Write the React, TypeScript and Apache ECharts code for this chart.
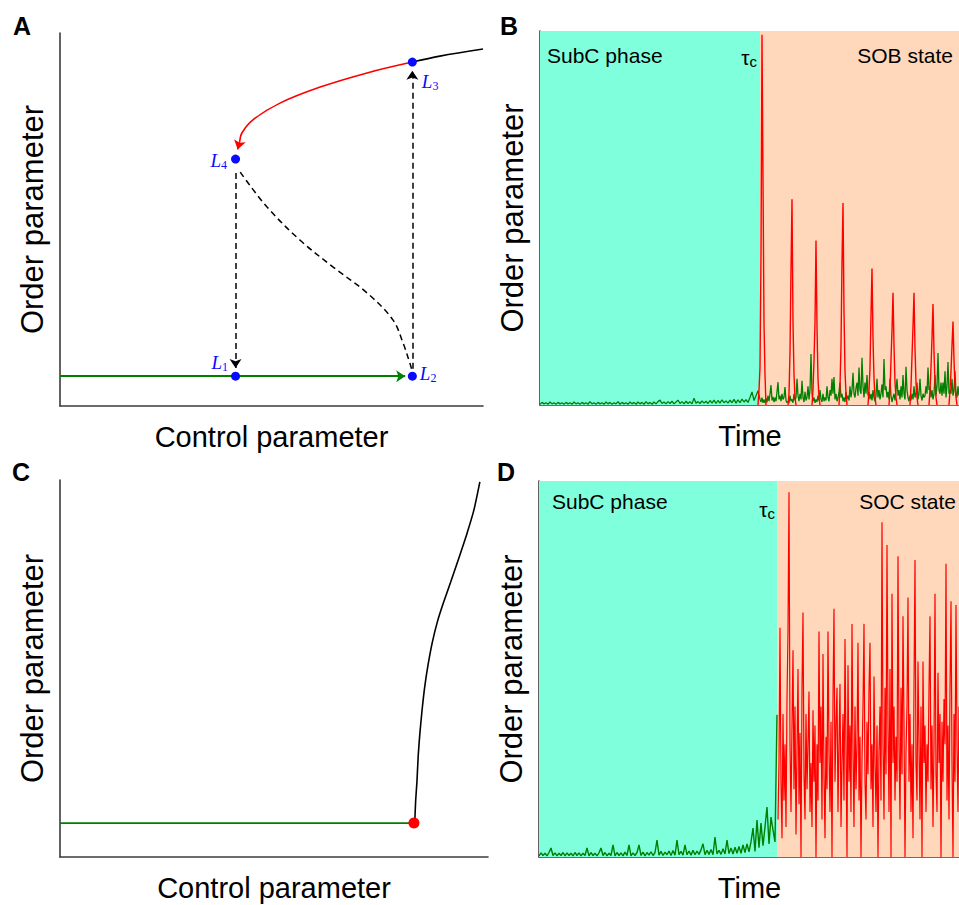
import { useEffect, useRef } from "react";
import * as echarts from "echarts";

const FONT = "'Liberation Sans', Arial, Helvetica, sans-serif";
const SERIF = "'Liberation Serif', 'Times New Roman', serif";
const BLUE = "#0a0aff";
const GREEN = "#008000";
const RED = "#ff0000";
const CYAN = "#80ffdc";
const PEACH = "#ffd7bb";
const AXIS = "#3c3c3c";

// ---------- Panel A: hysteresis loop (axes 0–100) ----------
const aPoints = [
  { name: "1", value: [41.5, 8] },
  { name: "2", value: [83.3, 8] },
  { name: "3", value: [83.3, 92.2] },
  { name: "4", value: [41.5, 66.2] },
];
const aUpperBlack = [[83.3, 92.2], [89.8, 93.8], [100, 95.7]];
const aUpperRed = [[83.3, 92.2], [72.6, 89.3], [61.5, 85.5], [52.0, 81.2], [45.6, 76.7], [43.0, 73.2], [42.5, 71.0]];
const aRedArrow = [[42.5, 71.0], [42.0, 68.8]];
const aUnstable = [[42.6, 62.7], [48.9, 53.4], [56.7, 44.5], [64.5, 37.3], [72.6, 30.3], [78.7, 23.1], [81.1, 16.9], [82.7, 11.5], [83.2, 9.6]];
const aGreenArrow = [[0, 8], [81.6, 8]];
const aDropDown = [[41.5, 62.5], [41.5, 10.2]];
const aJumpUp = [[83.3, 10.0], [83.3, 89.9]];

// ---------- Panel C: continuous transition (axes 0–100) ----------
const cGreen = [[0, 9], [82.7, 9]];
const cCritical = [[82.7, 9]];
const cBranch = [
  [82.9, 9.6], [83.1, 15], [83.4, 20], [83.7, 27], [84.1, 33], [84.6, 39], [85.2, 45], [86.0, 51],
  [87.0, 57], [88.2, 62.5], [89.6, 67.5], [91.3, 73], [93.1, 79], [95.0, 85.5], [96.7, 92], [98.1, 99.5],
];

// ---------- Panel B: time series, time 0–420, tau_c = 220 ----------
const bTimeMax = 420;
const bTau = 220;
// green before tau_c: every 2 time units from t = 0 to 220
const bGreenPreStep = 2;
const bGreenPre = [
  0.2, 0.7, 0.3, 0.6, 0.2, 0.8, 0.3, 0.6, 0.2, 0.7,
  0.3, 0.6, 0.2, 0.7, 0.3, 0.6, 0.2, 0.8, 0.3, 0.6,
  0.2, 0.7, 0.3, 0.6, 0.2, 0.9, 0.3, 0.6, 0.2, 0.7,
  0.3, 0.6, 0.2, 0.8, 0.3, 0.7, 0.2, 0.6, 0.3, 0.9,
  0.2, 0.7, 0.3, 0.6, 0.2, 0.8, 0.3, 0.7, 0.2, 0.8,
  0.3, 0.7, 0.2, 0.9, 0.3, 0.7, 0.2, 0.8, 0.3, 0.9,
  1.3, 0.4, 0.8, 0.3, 0.9, 0.4, 1.0, 0.3, 0.8, 1.3,
  0.4, 0.9, 0.3, 1.0, 0.4, 0.9, 0.3, 1.8, 0.5, 0.9,
  0.4, 1.1, 0.5, 1.0, 0.4, 1.2, 0.5, 1.3, 0.4, 1.2,
  0.5, 1.4, 0.6, 1.1, 0.5, 1.3, 0.6, 1.5, 0.5, 1.4,
  0.6, 1.6, 0.8, 1.4, 0.7, 2.0, 3.5, 1.2, 2.5, 3.8,
  1.5,
];
// green after tau_c: every time unit from t = 221 to 420
const bGreenPostStart = 221;
const bGreenPost = [
  0.8, 2.0, 0.6, 1.5, 0.5, 1.8, 0.7, 2.5, 1.0, 3.0,
  5.3, 1.2, 2.2, 0.8, 2.0, 1.0, 3.5, 6.1, 1.5, 2.5,
  1.0, 3.0, 1.5, 2.0, 4.8, 1.2, 0.6, 1.0, 0.5, 2.5,
  1.0, 1.5, 0.6, 3.0, 1.2, 2.0, 7.0, 2.5, 1.0, 3.0,
  1.5, 6.5, 2.0, 0.8, 3.5, 1.2, 2.0, 5.0, 1.5, 4.0,
  13.6, 3.0, 1.0, 2.0, 0.6, 1.5, 0.8, 2.5, 1.2, 4.0,
  1.5, 0.8, 3.0, 1.0, 2.0, 1.2, 5.0, 2.0, 1.0, 4.0,
  2.5, 7.0, 3.0, 7.5, 1.5, 3.0, 1.0, 2.0, 3.5, 6.0,
  2.0, 3.0, 1.0, 2.0, 0.8, 3.5, 1.5, 2.5, 1.2, 5.0,
  2.0, 4.0, 8.6, 3.0, 2.0, 4.5, 6.0, 2.5, 10.0, 4.0,
  3.0, 12.6, 5.0, 2.0, 6.0, 3.0, 8.0, 2.5, 3.5, 1.5,
  3.0, 1.2, 4.0, 2.0, 1.0, 2.5, 7.0, 2.0, 4.0, 1.5,
  3.0, 5.5, 2.0, 12.3, 4.0, 5.0, 2.0, 3.5, 1.5, 7.0,
  2.5, 0.8, 2.0, 3.0, 1.2, 4.0, 7.0, 2.5, 4.0, 1.5,
  5.0, 2.0, 8.0, 3.0, 1.5, 10.2, 4.0, 2.0, 1.0, 2.5,
  1.2, 3.0, 1.5, 5.0, 2.0, 3.0, 6.0, 1.5, 3.0, 7.0,
  2.5, 1.2, 3.0, 2.0, 2.5, 5.0, 3.0, 10.0, 4.0, 5.0,
  2.0, 4.0, 1.5, 3.0, 8.0, 2.5, 5.0, 13.9, 4.0, 3.0,
  6.0, 2.5, 6.0, 3.0, 9.0, 2.0, 5.0, 11.5, 3.0, 4.0,
  3.0, 7.0, 2.5, 4.0, 9.0, 3.0, 2.0, 5.0, 2.5, 4.0,
];
// red bursts: [time, value] per burst
const bRedBursts = [
  [[218, 0], [219, 4], [220, 10], [221, 40], [222, 99], [223, 60], [224, 22], [225, 8], [226, 0]],
  [[248, 0], [249, 3], [250, 14], [251, 36], [252, 55], [253, 22], [254, 8], [255, 2], [256, 0]],
  [[272, 0], [273, 4], [274, 12], [275, 22], [276, 44], [277, 21], [278, 7], [279, 2], [280, 0]],
  [[299, 0], [300, 5], [301, 16], [302, 38], [303, 54], [304, 25], [305, 9], [306, 3], [307, 0]],
  [[328, 0], [329, 4], [330, 10], [331, 24], [332, 36.5], [333, 18], [334, 7], [335, 2], [336, 0]],
  [[349, 0], [350, 4], [351, 12], [352, 20], [353, 30], [354, 16], [355, 6], [356, 2], [357, 0]],
  [[370, 0], [371, 5], [372, 13], [373, 21], [374, 30], [375, 15], [376, 6], [377, 2], [378, 0]],
  [[389, 0], [390, 4], [391, 10], [392, 18], [393, 27], [394, 14], [395, 6], [396, 2], [397, 0]],
  [[409, 0], [410, 4], [411, 9], [412, 16], [413, 22.3], [414, 12], [415, 5], [416, 2], [417, 0]],
];

// ---------- Panel D: time series, time 0–421, tau_c = 238 ----------
const dTimeMax = 421;
const dTau = 238;
const dGreenStep = 2;
const dGreen = [
  0.3, 1.1, 0.4, 1.0, 0.3, 1.2, 2.4, 0.4, 1.1, 0.3,
  1.0, 0.4, 1.2, 0.3, 1.1, 0.4, 1.0, 0.3, 1.2, 0.4,
  1.1, 0.3, 1.0, 0.4, 2.4, 0.3, 1.2, 0.4, 1.0, 0.3,
  1.1, 2.4, 0.4, 1.2, 0.3, 1.0, 0.4, 3.2, 0.3, 1.2,
  0.4, 1.1, 0.3, 1.3, 0.4, 3.2, 0.3, 1.1, 0.4, 1.2,
  3.2, 0.4, 1.3, 0.3, 1.2, 0.5, 1.4, 0.4, 1.2, 4.5,
  0.5, 1.5, 0.4, 1.3, 0.6, 1.6, 0.4, 1.7, 0.5, 4.5,
  0.6, 1.5, 0.5, 3.2, 0.6, 1.6, 0.5, 1.8, 0.6, 1.6,
  0.7, 1.9, 3.5, 0.6, 1.8, 0.7, 2.0, 0.6, 5.3, 0.8,
  1.8, 0.7, 2.2, 0.8, 4.5, 0.9, 2.4, 0.8, 2.6, 1.0,
  2.8, 1.0, 3.2, 1.2, 3.5, 1.4, 4.0, 7.7, 1.5, 9.8,
  2.5, 9.0, 3.0, 8.0, 13.3, 3.5, 10.6, 7.2, 4.0, 37.8,
];
// red starts at t = 239, sampled every time unit
const dRedStart = 239;
const dRedStep = 1;
const dRed = [
  10, 25, 61, 20, 5, 38, 15, 30, 8, 42,
  60, 97, 30, 12, 35, 55, 18, 40, 6, 28,
  50, 14, 33, 0, 45, 65, 22, 10, 38, 18,
  30, 44, 12, 25, 8, 39, 20, 35, 0, 30,
  15, 60, 25, 40, 10, 54, 22, 5, 32, 18,
  60, 28, 12, 36, 0, 42, 66, 20, 35, 45,
  12, 30, 46, 8, 25, 38, 15, 58, 30, 0,
  51, 20, 35, 12, 62, 28, 8, 40, 18, 30,
  57, 15, 32, 0, 26, 40, 62, 20, 10, 36,
  22, 45, 57, 18, 30, 8, 48, 25, 12, 35,
  0, 28, 40, 15, 89, 30, 10, 45, 22, 83,
  35, 12, 50, 0, 70, 25, 40, 15, 32, 20,
  80, 30, 10, 45, 22, 64, 35, 0, 28, 40,
  69, 20, 38, 12, 30, 5, 45, 79, 25, 15,
  52, 30, 10, 40, 0, 52, 25, 35, 12, 30,
  20, 45, 64, 18, 35, 8, 30, 70, 22, 12,
  49, 25, 38, 0, 36, 20, 42, 30, 78, 15,
  35, 10, 45, 68, 25, 0, 38, 20, 67, 30,
  12, 40, 25,
];

const grids = [
  { left: 60, top: 33, width: 423, height: 373 },
  { left: 540, top: 31, width: 420, height: 374 },
  { left: 60, top: 480, width: 428, height: 377 },
  { left: 539, top: 481, width: 421, height: 376 },
];

function xAxis(gridIndex: number, max: number, name: string) {
  return {
    type: "value", gridIndex, min: 0, max, name, nameLocation: "middle", nameGap: 16,
    nameTextStyle: { fontSize: 29, fontFamily: FONT, color: "#000" },
    axisLine: { show: true, onZero: false, lineStyle: { color: AXIS, width: 1.6 } },
    axisTick: { show: false }, axisLabel: { show: false }, splitLine: { show: false },
  };
}
function yAxis(gridIndex: number) {
  return {
    type: "value", gridIndex, min: 0, max: 100, name: "Order parameter", nameLocation: "middle", nameGap: 12,
    nameTextStyle: { fontSize: 31, fontFamily: FONT, color: "#000" },
    axisLine: { show: true, onZero: false, lineStyle: { color: AXIS, width: 1.6 } },
    axisTick: { show: false }, axisLabel: { show: false }, splitLine: { show: false },
  };
}

function curve(idx: number, data: number[][], color: string, width: number, dashed = false, smooth: number | boolean = 0.35) {
  return {
    type: "line", xAxisIndex: idx, yAxisIndex: idx, data, smooth, symbol: "none", showSymbol: false,
    silent: true, z: 3, lineStyle: { color, width, type: dashed ? [6, 4] : "solid" },
  };
}
function arrow(idx: number, coords: number[][], color: string, width: number, dashed = false) {
  return {
    type: "lines", coordinateSystem: "cartesian2d", xAxisIndex: idx, yAxisIndex: idx, silent: true, z: 4,
    symbol: ["none", "arrow"], symbolSize: [7, 9],
    lineStyle: { color, width, opacity: 1, type: dashed ? [6, 4] : "solid", curveness: 0 },
    data: [{ coords }],
  };
}

const subRich = {
  l: { fontFamily: SERIF, fontStyle: "italic", fontSize: 19, color: BLUE },
  s: { fontFamily: SERIF, fontSize: 12, color: BLUE, padding: [10, 0, 0, 0] },
};
const labelPlacement: Record<string, any> = {
  "1": { position: "left", distance: 3, offset: [0, -14] },
  "2": { position: "right", distance: 3, offset: [0, -3] },
  "3": { position: "right", distance: 5, offset: [0, 19] },
  "4": { position: "left", distance: 4, offset: [0, 1] },
};

function tauText(x: number, y: number) {
  return {
    type: "text", x, y, z: 100,
    style: {
      text: "{t|τ}{c|c}", align: "right", verticalAlign: "middle",
      rich: {
        t: { fontFamily: FONT, fontSize: 21, fill: "#000", color: "#000" },
        c: { fontFamily: FONT, fontSize: 15, fill: "#000", color: "#000", padding: [8, 0, 0, 0] },
      },
    },
  };
}
function plainText(text: string, x: number, y: number, size: number, align = "left", bold = false) {
  return {
    type: "text", x, y, z: 100,
    style: { text, fontSize: size, fontFamily: FONT, fontWeight: bold ? "bold" : "normal", fill: "#000", align, verticalAlign: "middle" },
  };
}

function regionAreas(idx: number, tau: number, max: number) {
  return {
    type: "line", xAxisIndex: idx, yAxisIndex: idx, data: [], silent: true, z: 1,
    markArea: {
      silent: true,
      data: [
        [{ xAxis: 0, itemStyle: { color: CYAN, opacity: 1 } }, { xAxis: tau }],
        [{ xAxis: tau, itemStyle: { color: PEACH, opacity: 1 } }, { xAxis: max }],
      ],
    },
  };
}

const bGreenData = [
  ...bGreenPre.map((v, i) => [i * bGreenPreStep, v]),
  ...bGreenPost.map((v, i) => [bGreenPostStart + i, v]),
];
const bRedData: any[] = [];
bRedBursts.forEach((burst) => {
  burst.forEach((p) => bRedData.push(p));
  bRedData.push([burst[burst.length - 1][0] + 0.5, "-"]);
});

const option = {
  animation: false,
  backgroundColor: "#fff",
  grid: grids.map((g) => ({ ...g, outerBoundsMode: "none", containLabel: false })),
  xAxis: [
    xAxis(0, 100, "Control parameter"),
    xAxis(1, bTimeMax, "Time"),
    xAxis(2, 100, "Control parameter"),
    xAxis(3, dTimeMax, "Time"),
  ],
  yAxis: [yAxis(0), yAxis(1), yAxis(2), yAxis(3)],
  graphic: [
    plainText("A", 13, 25.5, 25, "left", true),
    plainText("B", 500, 25.5, 25, "left", true),
    plainText("C", 12, 471.5, 25, "left", true),
    plainText("D", 497, 471.5, 25, "left", true),
    plainText("SubC phase", 547, 55, 21),
    plainText("SOB state", 953, 55, 21, "right"),
    tauText(757, 57),
    plainText("SubC phase", 552, 501.5, 21),
    plainText("SOC state", 956, 501.5, 21, "right"),
    tauText(775, 509),
  ],
  series: [
    // Panel A
    curve(0, aUpperBlack, "#000", 1.6),
    curve(0, aUpperRed, RED, 1.6),
    arrow(0, aRedArrow, RED, 1.6),
    curve(0, aUnstable, "#000", 1.5, true),
    arrow(0, aDropDown, "#000", 1.5, true),
    arrow(0, aJumpUp, "#000", 1.5, true),
    arrow(0, aGreenArrow, GREEN, 1.8),
    {
      type: "scatter", xAxisIndex: 0, yAxisIndex: 0, silent: true, z: 6, symbolSize: 9,
      itemStyle: { color: BLUE, opacity: 1 },
      data: aPoints.map((p) => ({
        value: p.value,
        label: { show: true, formatter: `{l|L}{s|${p.name}}`, rich: subRich, ...labelPlacement[p.name] },
      })),
    },
    // Panel B
    regionAreas(1, bTau, bTimeMax),
    {
      type: "line", xAxisIndex: 1, yAxisIndex: 1, silent: true, z: 3, symbol: "none", showSymbol: false,
      data: bGreenData,
      lineStyle: { color: GREEN, width: 1.3 },
    },
    {
      type: "line", xAxisIndex: 1, yAxisIndex: 1, silent: true, z: 4, symbol: "none", showSymbol: false,
      connectNulls: false, data: bRedData, lineStyle: { color: RED, width: 1.4 },
    },
    // Panel C
    curve(2, cGreen, GREEN, 1.8, false, false),
    curve(2, cBranch, "#000", 1.6, false, 0.2),
    {
      type: "scatter", xAxisIndex: 2, yAxisIndex: 2, silent: true, z: 6, symbolSize: 11,
      itemStyle: { color: RED, opacity: 1 }, data: cCritical,
    },
    // Panel D
    regionAreas(3, dTau, dTimeMax),
    {
      type: "line", xAxisIndex: 3, yAxisIndex: 3, silent: true, z: 3, symbol: "none", showSymbol: false,
      data: dGreen.map((v, i) => [i * dGreenStep, v]),
      lineStyle: { color: GREEN, width: 1.4 },
    },
    {
      type: "line", xAxisIndex: 3, yAxisIndex: 3, silent: true, z: 4, symbol: "none", showSymbol: false,
      data: dRed.map((v, i) => [dRedStart + i * dRedStep, v]),
      lineStyle: { color: RED, width: 1.2 },
    },
  ],
};

export default function App() {
  const ref = useRef<HTMLDivElement>(null);
  useEffect(() => {
    if (!ref.current) return;
    const chart = echarts.init(ref.current, null, { renderer: "svg" });
    chart.setOption(option as any);
    return () => chart.dispose();
  }, []);
  return (
    <div
      ref={ref}
      style={{ position: "absolute", left: 0, top: 0, width: 959, height: 905, background: "#fff" }}
    />
  );
}
